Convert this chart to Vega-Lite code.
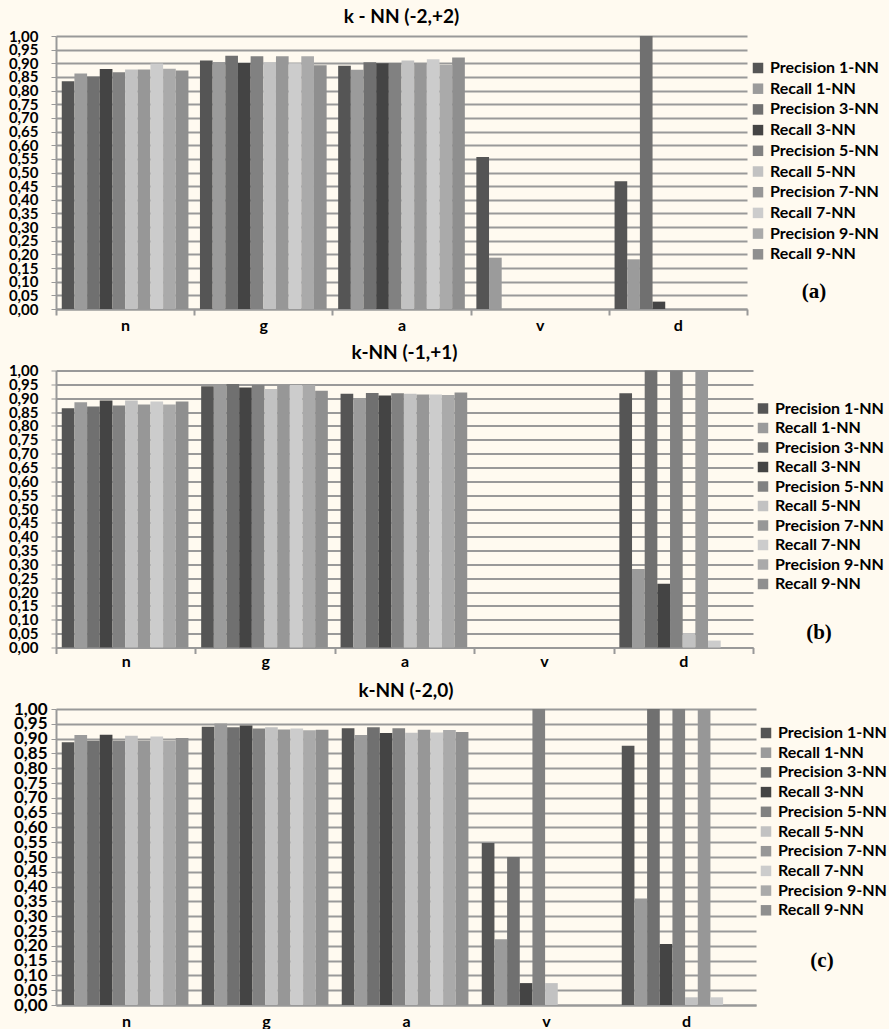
{
  "$schema": "https://vega.github.io/schema/vega-lite/v6.json",
  "background": "#fffaf0",
  "padding": {"left": 8, "top": 8, "right": 2, "bottom": 0},
  "spacing": 61.5,
  "bounds": "flush",
  "datasets": {
    "a": [
      {"c": "n", "s": "Precision 1-NN", "v": 0.834}, {"c": "n", "s": "Recall 1-NN", "v": 0.863}, {"c": "n", "s": "Precision 3-NN", "v": 0.852}, {"c": "n", "s": "Recall 3-NN", "v": 0.879}, {"c": "n", "s": "Precision 5-NN", "v": 0.867}, {"c": "n", "s": "Recall 5-NN", "v": 0.877}, {"c": "n", "s": "Precision 7-NN", "v": 0.877}, {"c": "n", "s": "Recall 7-NN", "v": 0.899}, {"c": "n", "s": "Precision 9-NN", "v": 0.880}, {"c": "n", "s": "Recall 9-NN", "v": 0.874},
      {"c": "g", "s": "Precision 1-NN", "v": 0.910}, {"c": "g", "s": "Recall 1-NN", "v": 0.905}, {"c": "g", "s": "Precision 3-NN", "v": 0.928}, {"c": "g", "s": "Recall 3-NN", "v": 0.901}, {"c": "g", "s": "Precision 5-NN", "v": 0.926}, {"c": "g", "s": "Recall 5-NN", "v": 0.904}, {"c": "g", "s": "Precision 7-NN", "v": 0.926}, {"c": "g", "s": "Recall 7-NN", "v": 0.900}, {"c": "g", "s": "Precision 9-NN", "v": 0.926}, {"c": "g", "s": "Recall 9-NN", "v": 0.893},
      {"c": "a", "s": "Precision 1-NN", "v": 0.891}, {"c": "a", "s": "Recall 1-NN", "v": 0.876}, {"c": "a", "s": "Precision 3-NN", "v": 0.904}, {"c": "a", "s": "Recall 3-NN", "v": 0.900}, {"c": "a", "s": "Precision 5-NN", "v": 0.901}, {"c": "a", "s": "Recall 5-NN", "v": 0.910}, {"c": "a", "s": "Precision 7-NN", "v": 0.901}, {"c": "a", "s": "Recall 7-NN", "v": 0.915}, {"c": "a", "s": "Precision 9-NN", "v": 0.894}, {"c": "a", "s": "Recall 9-NN", "v": 0.921},
      {"c": "v", "s": "Precision 1-NN", "v": 0.557}, {"c": "v", "s": "Recall 1-NN", "v": 0.188}, {"c": "v", "s": "Precision 3-NN", "v": 0}, {"c": "v", "s": "Recall 3-NN", "v": 0}, {"c": "v", "s": "Precision 5-NN", "v": 0}, {"c": "v", "s": "Recall 5-NN", "v": 0}, {"c": "v", "s": "Precision 7-NN", "v": 0}, {"c": "v", "s": "Recall 7-NN", "v": 0}, {"c": "v", "s": "Precision 9-NN", "v": 0}, {"c": "v", "s": "Recall 9-NN", "v": 0},
      {"c": "d", "s": "Precision 1-NN", "v": 0.468}, {"c": "d", "s": "Recall 1-NN", "v": 0.182}, {"c": "d", "s": "Precision 3-NN", "v": 1.0}, {"c": "d", "s": "Recall 3-NN", "v": 0.027}, {"c": "d", "s": "Precision 5-NN", "v": 0}, {"c": "d", "s": "Recall 5-NN", "v": 0}, {"c": "d", "s": "Precision 7-NN", "v": 0}, {"c": "d", "s": "Recall 7-NN", "v": 0}, {"c": "d", "s": "Precision 9-NN", "v": 0}, {"c": "d", "s": "Recall 9-NN", "v": 0}
    ],
    "b": [
      {"c": "n", "s": "Precision 1-NN", "v": 0.864}, {"c": "n", "s": "Recall 1-NN", "v": 0.885}, {"c": "n", "s": "Precision 3-NN", "v": 0.870}, {"c": "n", "s": "Recall 3-NN", "v": 0.892}, {"c": "n", "s": "Precision 5-NN", "v": 0.874}, {"c": "n", "s": "Recall 5-NN", "v": 0.892}, {"c": "n", "s": "Precision 7-NN", "v": 0.877}, {"c": "n", "s": "Recall 7-NN", "v": 0.888}, {"c": "n", "s": "Precision 9-NN", "v": 0.877}, {"c": "n", "s": "Recall 9-NN", "v": 0.888},
      {"c": "g", "s": "Precision 1-NN", "v": 0.943}, {"c": "g", "s": "Recall 1-NN", "v": 0.947}, {"c": "g", "s": "Precision 3-NN", "v": 0.951}, {"c": "g", "s": "Recall 3-NN", "v": 0.939}, {"c": "g", "s": "Precision 5-NN", "v": 0.948}, {"c": "g", "s": "Recall 5-NN", "v": 0.933}, {"c": "g", "s": "Precision 7-NN", "v": 0.948}, {"c": "g", "s": "Recall 7-NN", "v": 0.948}, {"c": "g", "s": "Precision 9-NN", "v": 0.948}, {"c": "g", "s": "Recall 9-NN", "v": 0.927},
      {"c": "a", "s": "Precision 1-NN", "v": 0.916}, {"c": "a", "s": "Recall 1-NN", "v": 0.900}, {"c": "a", "s": "Precision 3-NN", "v": 0.919}, {"c": "a", "s": "Recall 3-NN", "v": 0.910}, {"c": "a", "s": "Precision 5-NN", "v": 0.918}, {"c": "a", "s": "Recall 5-NN", "v": 0.916}, {"c": "a", "s": "Precision 7-NN", "v": 0.913}, {"c": "a", "s": "Recall 7-NN", "v": 0.913}, {"c": "a", "s": "Precision 9-NN", "v": 0.912}, {"c": "a", "s": "Recall 9-NN", "v": 0.921},
      {"c": "v", "s": "Precision 1-NN", "v": 0}, {"c": "v", "s": "Recall 1-NN", "v": 0}, {"c": "v", "s": "Precision 3-NN", "v": 0}, {"c": "v", "s": "Recall 3-NN", "v": 0}, {"c": "v", "s": "Precision 5-NN", "v": 0}, {"c": "v", "s": "Recall 5-NN", "v": 0}, {"c": "v", "s": "Precision 7-NN", "v": 0}, {"c": "v", "s": "Recall 7-NN", "v": 0}, {"c": "v", "s": "Precision 9-NN", "v": 0}, {"c": "v", "s": "Recall 9-NN", "v": 0},
      {"c": "d", "s": "Precision 1-NN", "v": 0.918}, {"c": "d", "s": "Recall 1-NN", "v": 0.283}, {"c": "d", "s": "Precision 3-NN", "v": 1.0}, {"c": "d", "s": "Recall 3-NN", "v": 0.230}, {"c": "d", "s": "Precision 5-NN", "v": 1.0}, {"c": "d", "s": "Recall 5-NN", "v": 0.052}, {"c": "d", "s": "Precision 7-NN", "v": 1.0}, {"c": "d", "s": "Recall 7-NN", "v": 0.025}, {"c": "d", "s": "Precision 9-NN", "v": 0}, {"c": "d", "s": "Recall 9-NN", "v": 0}
    ],
    "c": [
      {"c": "n", "s": "Precision 1-NN", "v": 0.888}, {"c": "n", "s": "Recall 1-NN", "v": 0.912}, {"c": "n", "s": "Precision 3-NN", "v": 0.893}, {"c": "n", "s": "Recall 3-NN", "v": 0.913}, {"c": "n", "s": "Precision 5-NN", "v": 0.893}, {"c": "n", "s": "Recall 5-NN", "v": 0.910}, {"c": "n", "s": "Precision 7-NN", "v": 0.893}, {"c": "n", "s": "Recall 7-NN", "v": 0.907}, {"c": "n", "s": "Precision 9-NN", "v": 0.893}, {"c": "n", "s": "Recall 9-NN", "v": 0.902},
      {"c": "g", "s": "Precision 1-NN", "v": 0.940}, {"c": "g", "s": "Recall 1-NN", "v": 0.951}, {"c": "g", "s": "Precision 3-NN", "v": 0.938}, {"c": "g", "s": "Recall 3-NN", "v": 0.944}, {"c": "g", "s": "Precision 5-NN", "v": 0.934}, {"c": "g", "s": "Recall 5-NN", "v": 0.938}, {"c": "g", "s": "Precision 7-NN", "v": 0.931}, {"c": "g", "s": "Recall 7-NN", "v": 0.934}, {"c": "g", "s": "Precision 9-NN", "v": 0.928}, {"c": "g", "s": "Recall 9-NN", "v": 0.930},
      {"c": "a", "s": "Precision 1-NN", "v": 0.935}, {"c": "a", "s": "Recall 1-NN", "v": 0.912}, {"c": "a", "s": "Precision 3-NN", "v": 0.938}, {"c": "a", "s": "Recall 3-NN", "v": 0.919}, {"c": "a", "s": "Precision 5-NN", "v": 0.935}, {"c": "a", "s": "Recall 5-NN", "v": 0.920}, {"c": "a", "s": "Precision 7-NN", "v": 0.930}, {"c": "a", "s": "Recall 7-NN", "v": 0.921}, {"c": "a", "s": "Precision 9-NN", "v": 0.929}, {"c": "a", "s": "Recall 9-NN", "v": 0.922},
      {"c": "v", "s": "Precision 1-NN", "v": 0.547}, {"c": "v", "s": "Recall 1-NN", "v": 0.222}, {"c": "v", "s": "Precision 3-NN", "v": 0.500}, {"c": "v", "s": "Recall 3-NN", "v": 0.074}, {"c": "v", "s": "Precision 5-NN", "v": 1.0}, {"c": "v", "s": "Recall 5-NN", "v": 0.074}, {"c": "v", "s": "Precision 7-NN", "v": 0}, {"c": "v", "s": "Recall 7-NN", "v": 0}, {"c": "v", "s": "Precision 9-NN", "v": 0}, {"c": "v", "s": "Recall 9-NN", "v": 0},
      {"c": "d", "s": "Precision 1-NN", "v": 0.876}, {"c": "d", "s": "Recall 1-NN", "v": 0.360}, {"c": "d", "s": "Precision 3-NN", "v": 1.0}, {"c": "d", "s": "Recall 3-NN", "v": 0.206}, {"c": "d", "s": "Precision 5-NN", "v": 1.0}, {"c": "d", "s": "Recall 5-NN", "v": 0.026}, {"c": "d", "s": "Precision 7-NN", "v": 1.0}, {"c": "d", "s": "Recall 7-NN", "v": 0.026}, {"c": "d", "s": "Precision 9-NN", "v": 0}, {"c": "d", "s": "Recall 9-NN", "v": 0}
    ]
  },
  "resolve": {"legend": {"color": "independent"}, "scale": {"color": "independent"}},
  "vconcat": [
    {
      "data": {"name": "a"},
      "width": 691,
      "height": 273,
      "title": {"text": "k - NN (-2,+2)", "frame": "group", "font": "Lato", "fontSize": 19, "fontWeight": "bold", "color": "#000", "offset": 2, "anchor": "middle"},
      "mark": {"type": "bar"},
      "encoding": {
        "x": {"field": "c", "type": "nominal", "sort": ["n", "g", "a", "v", "d"], "scale": {"paddingInner": 0, "paddingOuter": 0},
          "axis": {"title": null, "labelAngle": 0, "tickBand": "extent", "tickSize": 6, "tickColor": "#999", "tickWidth": 2, "domainColor": "#999", "domainWidth": 2, "labelFont": "Lato", "labelFontWeight": "bold", "labelFontSize": 16, "labelColor": "#000", "labelPadding": 2, "grid": false}},
        "xOffset": {"field": "s", "type": "nominal", "sort": ["Precision 1-NN", "Recall 1-NN", "Precision 3-NN", "Recall 3-NN", "Precision 5-NN", "Recall 5-NN", "Precision 7-NN", "Recall 7-NN", "Precision 9-NN", "Recall 9-NN"], "scale": {"paddingInner": 0, "paddingOuter": 0.455}},
        "y": {"field": "v", "type": "quantitative", "scale": {"domain": [0, 1], "nice": false},
          "axis": {"title": null, "values": [0, 0.05, 0.1, 0.15, 0.2, 0.25, 0.3, 0.35, 0.4, 0.45, 0.5, 0.55, 0.6, 0.65, 0.7, 0.75, 0.8, 0.85, 0.9, 0.95, 1], "labelExpr": "replace(format(datum.value, '.2f'), '.', ',')", "labelOverlap": false, "labelFlush": false, "labelBound": false, "grid": true, "gridColor": "#999", "gridWidth": 2, "domainColor": "#999", "domainWidth": 2, "tickSize": 5, "tickColor": "#999", "labelFont": "Lato", "labelFontSize": 15, "labelFontWeight": "bold", "labelColor": "#000", "labelPadding": 13}},
        "color": {"field": "s", "type": "nominal",
          "scale": {"domain": ["Precision 1-NN", "Recall 1-NN", "Precision 3-NN", "Recall 3-NN", "Precision 5-NN", "Recall 5-NN", "Precision 7-NN", "Recall 7-NN", "Precision 9-NN", "Recall 9-NN"], "range": ["#555555", "#9b9b9b", "#707070", "#444444", "#818181", "#c2c2c2", "#979797", "#cccccc", "#aaaaaa", "#8f8f8f"]},
          "legend": {"title": "(a)", "orient": "none", "legendX": 694, "legendY": 24, "padding": 0, "titleOrient": "bottom", "titleAnchor": "middle", "titleFont": "Liberation Serif", "titleFontSize": 21, "titleFontWeight": "bold", "titleColor": "#000", "titlePadding": 19, "labelFont": "Lato", "labelFontSize": 16, "labelFontWeight": "bold", "labelColor": "#000", "symbolType": "square", "symbolSize": 110, "symbolStrokeWidth": 0, "rowPadding": 4.7, "labelOffset": 4}}
      }
    },
    {
      "data": {"name": "b"},
      "width": 697,
      "height": 277,
      "title": {"text": "k-NN (-1,+1)", "frame": "group", "font": "Lato", "fontSize": 19, "fontWeight": "bold", "color": "#000", "offset": 1, "anchor": "middle"},
      "mark": {"type": "bar"},
      "encoding": {
        "x": {"field": "c", "type": "nominal", "sort": ["n", "g", "a", "v", "d"], "scale": {"paddingInner": 0, "paddingOuter": 0},
          "axis": {"title": null, "labelAngle": 0, "tickBand": "extent", "tickSize": 6, "tickColor": "#999", "tickWidth": 2, "domainColor": "#999", "domainWidth": 2, "labelFont": "Lato", "labelFontWeight": "bold", "labelFontSize": 16, "labelColor": "#000", "labelPadding": 0, "grid": false}},
        "xOffset": {"field": "s", "type": "nominal", "sort": ["Precision 1-NN", "Recall 1-NN", "Precision 3-NN", "Recall 3-NN", "Precision 5-NN", "Recall 5-NN", "Precision 7-NN", "Recall 7-NN", "Precision 9-NN", "Recall 9-NN"], "scale": {"paddingInner": 0, "paddingOuter": 0.455}},
        "y": {"field": "v", "type": "quantitative", "scale": {"domain": [0, 1], "nice": false},
          "axis": {"title": null, "values": [0, 0.05, 0.1, 0.15, 0.2, 0.25, 0.3, 0.35, 0.4, 0.45, 0.5, 0.55, 0.6, 0.65, 0.7, 0.75, 0.8, 0.85, 0.9, 0.95, 1], "labelExpr": "replace(format(datum.value, '.2f'), '.', ',')", "labelOverlap": false, "labelFlush": false, "labelBound": false, "grid": true, "gridColor": "#999", "gridWidth": 2, "domainColor": "#999", "domainWidth": 2, "tickSize": 5, "tickColor": "#999", "labelFont": "Lato", "labelFontSize": 15, "labelFontWeight": "bold", "labelColor": "#000", "labelPadding": 13}},
        "color": {"field": "s", "type": "nominal",
          "scale": {"domain": ["Precision 1-NN", "Recall 1-NN", "Precision 3-NN", "Recall 3-NN", "Precision 5-NN", "Recall 5-NN", "Precision 7-NN", "Recall 7-NN", "Precision 9-NN", "Recall 9-NN"], "range": ["#555555", "#9b9b9b", "#707070", "#444444", "#818181", "#c2c2c2", "#979797", "#cccccc", "#aaaaaa", "#8f8f8f"]},
          "legend": {"title": "(b)", "orient": "none", "legendX": 699, "legendY": 30, "padding": 0, "titleOrient": "bottom", "titleAnchor": "middle", "titleFont": "Liberation Serif", "titleFontSize": 21, "titleFontWeight": "bold", "titleColor": "#000", "titlePadding": 29, "labelFont": "Lato", "labelFontSize": 16, "labelFontWeight": "bold", "labelColor": "#000", "symbolType": "square", "symbolSize": 110, "symbolStrokeWidth": 0, "rowPadding": 3.5, "labelOffset": 4}}
      }
    },
    {
      "data": {"name": "c"},
      "width": 700,
      "height": 296,
      "title": {"text": "k-NN (-2,0)", "frame": "group", "font": "Lato", "fontSize": 19, "fontWeight": "bold", "color": "#000", "offset": -1, "anchor": "middle"},
      "mark": {"type": "bar"},
      "encoding": {
        "x": {"field": "c", "type": "nominal", "sort": ["n", "g", "a", "v", "d"], "scale": {"paddingInner": 0, "paddingOuter": 0},
          "axis": {"title": null, "labelAngle": 0, "tickBand": "extent", "ticks": false, "domainColor": "#999", "domainWidth": 2, "labelFont": "Lato", "labelFontWeight": "bold", "labelFontSize": 16, "labelColor": "#000", "labelPadding": 8, "grid": false}},
        "xOffset": {"field": "s", "type": "nominal", "sort": ["Precision 1-NN", "Recall 1-NN", "Precision 3-NN", "Recall 3-NN", "Precision 5-NN", "Recall 5-NN", "Precision 7-NN", "Recall 7-NN", "Precision 9-NN", "Recall 9-NN"], "scale": {"paddingInner": 0, "paddingOuter": 0.455}},
        "y": {"field": "v", "type": "quantitative", "scale": {"domain": [0, 1], "nice": false},
          "axis": {"title": null, "values": [0, 0.05, 0.1, 0.15, 0.2, 0.25, 0.3, 0.35, 0.4, 0.45, 0.5, 0.55, 0.6, 0.65, 0.7, 0.75, 0.8, 0.85, 0.9, 0.95, 1], "labelExpr": "replace(format(datum.value, '.2f'), '.', ',')", "labelOverlap": false, "labelFlush": false, "labelBound": false, "grid": true, "gridColor": "#999", "gridWidth": 2, "domainColor": "#999", "domainWidth": 2, "tickSize": 5, "tickColor": "#999", "labelFont": "Lato", "labelFontSize": 17, "labelFontWeight": "bold", "labelColor": "#000", "labelPadding": 4}},
        "color": {"field": "s", "type": "nominal",
          "scale": {"domain": ["Precision 1-NN", "Recall 1-NN", "Precision 3-NN", "Recall 3-NN", "Precision 5-NN", "Recall 5-NN", "Precision 7-NN", "Recall 7-NN", "Precision 9-NN", "Recall 9-NN"], "range": ["#555555", "#9b9b9b", "#707070", "#444444", "#818181", "#c2c2c2", "#979797", "#cccccc", "#aaaaaa", "#8f8f8f"]},
          "legend": {"title": "(c)", "orient": "none", "legendX": 702, "legendY": 16, "padding": 0, "titleOrient": "bottom", "titleAnchor": "middle", "titleFont": "Liberation Serif", "titleFontSize": 21, "titleFontWeight": "bold", "titleColor": "#000", "titlePadding": 32, "labelFont": "Lato", "labelFontSize": 16, "labelFontWeight": "bold", "labelColor": "#000", "symbolType": "square", "symbolSize": 110, "symbolStrokeWidth": 0, "rowPadding": 3.7, "labelOffset": 4}}
      }
    }
  ],
  "config": {"view": {"stroke": null}, "font": "Lato"}
}
